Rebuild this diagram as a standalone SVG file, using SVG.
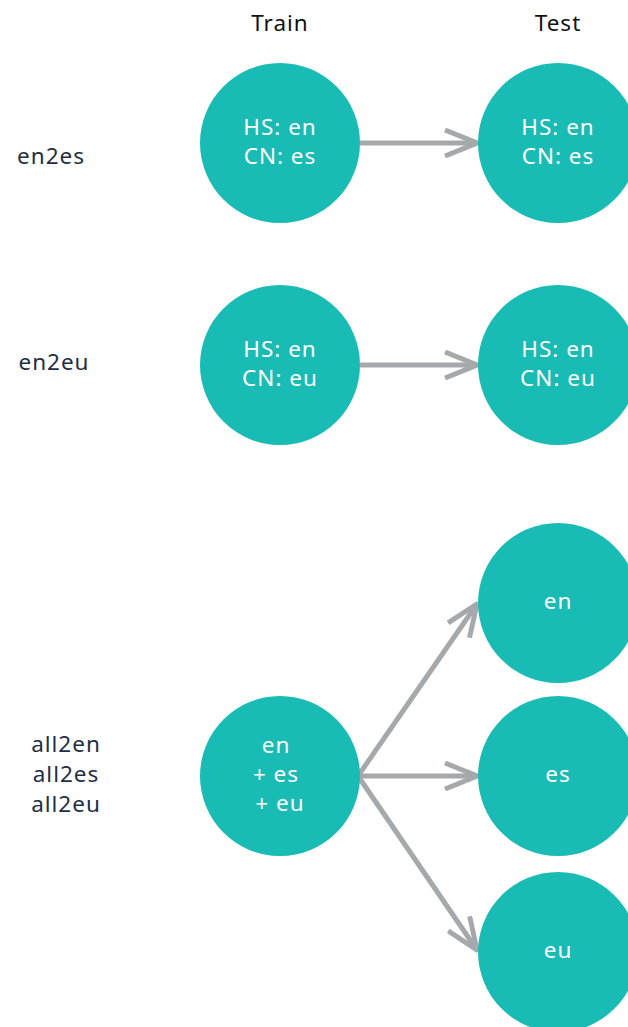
<svg xmlns="http://www.w3.org/2000/svg" width="628" height="1027" viewBox="0 0 628 1027">
  <style>
    .node { fill: #19bbb5; }
    .in { fill: #ffffff; font-family: "Noto Sans", "Liberation Sans", sans-serif; font-size: 22.5px; letter-spacing: 1px; text-anchor: middle; }
    .head { fill: #111111; font-family: "Noto Sans", "Liberation Sans", sans-serif; font-size: 22.5px; letter-spacing: 1px; text-anchor: middle; }
    .row { fill: #1e2f45; font-family: "Noto Sans", "Liberation Sans", sans-serif; font-size: 22.5px; letter-spacing: 1px; text-anchor: middle; }
    .edge { stroke: #a5a9ab; stroke-width: 5; fill: none; }
  </style>
  <defs>
    <marker id="chev" viewBox="0 0 36 30" refX="34" refY="15" markerWidth="36" markerHeight="30" markerUnits="userSpaceOnUse" orient="auto">
      <path d="M2,2 L34,15 L2,28" fill="none" stroke="#a5a9ab" stroke-width="5"/>
    </marker>
  </defs>
  <rect width="628" height="1027" fill="#ffffff"/>

  <!-- column headings -->
  <g id="headings">
    <text class="head" x="280" y="31">Train</text>
    <text class="head" x="558" y="31">Test</text>
  </g>

  <!-- row labels -->
  <g id="row-labels">
    <text class="row" x="51" y="164">en2es</text>
    <text class="row" x="54" y="370">en2eu</text>
    <text class="row" x="66" y="752">all2en</text>
    <text class="row" x="66" y="782">all2es</text>
    <text class="row" x="66" y="812">all2eu</text>
  </g>

  <!-- connectors -->
  <g id="connectors">
    <line class="edge" x1="360" y1="143" x2="477" y2="143" marker-end="url(#chev)"/>
    <line class="edge" x1="360" y1="365" x2="477" y2="365" marker-end="url(#chev)"/>
    <line class="edge" x1="358" y1="776" x2="477" y2="604" marker-end="url(#chev)"/>
    <line class="edge" x1="358" y1="776" x2="477" y2="776" marker-end="url(#chev)"/>
    <line class="edge" x1="358" y1="776" x2="477" y2="950" marker-end="url(#chev)"/>
  </g>

  <!-- en2es -->
  <g id="train-en2es">
    <circle class="node" cx="280" cy="143" r="80"/>
    <text class="in" x="280" y="135">HS: en</text>
    <text class="in" x="280" y="164">CN: es</text>
  </g>
  <g id="test-en2es">
    <circle class="node" cx="558" cy="143" r="80"/>
    <text class="in" x="558" y="135">HS: en</text>
    <text class="in" x="558" y="164">CN: es</text>
  </g>

  <!-- en2eu -->
  <g id="train-en2eu">
    <circle class="node" cx="280" cy="365" r="80"/>
    <text class="in" x="280" y="357">HS: en</text>
    <text class="in" x="280" y="386">CN: eu</text>
  </g>
  <g id="test-en2eu">
    <circle class="node" cx="558" cy="365" r="80"/>
    <text class="in" x="558" y="357">HS: en</text>
    <text class="in" x="558" y="386">CN: eu</text>
  </g>

  <!-- all2x -->
  <g id="train-all">
    <circle class="node" cx="280" cy="776" r="80"/>
    <text class="in" x="276" y="753">en</text>
    <text class="in" x="276" y="782">+ es</text>
    <text class="in" x="280" y="811">+ eu</text>
  </g>
  <g id="test-en">
    <circle class="node" cx="558" cy="603" r="80"/>
    <text class="in" x="558" y="609">en</text>
  </g>
  <g id="test-es">
    <circle class="node" cx="558" cy="776" r="80"/>
    <text class="in" x="558" y="782">es</text>
  </g>
  <g id="test-eu">
    <circle class="node" cx="558" cy="952" r="80"/>
    <text class="in" x="558" y="958">eu</text>
  </g>
</svg>
